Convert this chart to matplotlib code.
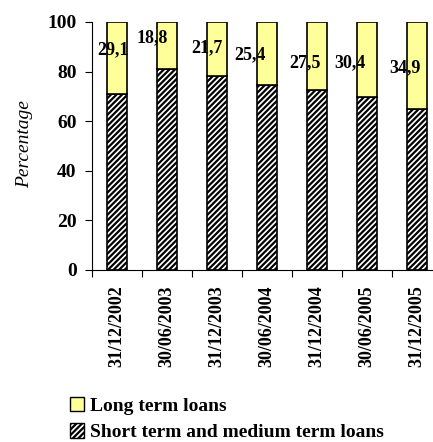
import numpy as np
import matplotlib
matplotlib.use("Agg")
import matplotlib.pyplot as plt
from matplotlib.patches import Patch

plt.rcParams["font.family"] = ["Liberation Serif", "DejaVu Serif"]
plt.rcParams["hatch.linewidth"] = 1.6
plt.rcParams["hatch.color"] = "#993366"

# データ
dates = ["31/12/2002", "30/06/2003", "31/12/2003", "30/06/2004",
         "31/12/2004", "30/06/2005", "31/12/2005"]
long_term = [29.1, 18.8, 21.7, 25.4, 27.5, 30.4, 34.9]
short_term = [100 - v for v in long_term]

# ラベル位置（Excel で手動調整されたもの）
label_dx = [-0.08, -0.30, -0.20, -0.34, -0.24, -0.34, -0.24]
label_y = [88.7, 93.5, 89.5, 86.7, 83.5, 83.5, 81.5]

YELLOW = "#FFFF99"
MAROON = "#993366"

fig = plt.figure(figsize=(4.33, 4.42), dpi=100)
ax = fig.add_axes([92 / 433, 1 - 270 / 442, 350 / 433, 248 / 442])

x = np.arange(len(dates))
ax.bar(x, short_term, width=0.4, color="white", edgecolor="black",
       hatch="//////", lw=1.2, label="Short term and medium term loans")
ax.bar(x, long_term, width=0.4, bottom=short_term, color=YELLOW,
       edgecolor="black", lw=1.2, label="Long term loans")

for xi, v, dx, ly in zip(x, long_term, label_dx, label_y):
    ax.text(xi + dx, ly, f"{v:.1f}".replace(".", ","), ha="center",
            va="center", fontsize=13, fontweight="bold")

ax.set_xlim(-0.5, len(dates) - 0.5)
ax.set_ylim(0, 100)
ax.set_yticks([0, 20, 40, 60, 80, 100])
ax.set_yticklabels(["0", "20", "40", "60", "80", "100"],
                   fontsize=14, fontweight="bold")
ax.tick_params(axis="y", direction="out", length=5, width=0.8, pad=6)

ax.set_xticks(x)
ax.set_xticklabels(dates, rotation=90, fontsize=13, fontweight="bold")
ax.set_xticks(np.arange(len(dates)) - 0.5, minor=True)
ax.tick_params(axis="x", which="major", length=0, pad=11)
ax.tick_params(axis="x", which="minor", direction="out", length=5, width=0.8)

for s in ["top", "right"]:
    ax.spines[s].set_visible(False)
ax.spines["left"].set_linewidth(0.8)
ax.spines["bottom"].set_linewidth(0.8)

fig.text(25 / 433, 1 - 144 / 442, "Percentage", rotation=90, ha="center",
         va="center", fontsize=14, fontstyle="italic")

handles = [Patch(facecolor=YELLOW, edgecolor="black", lw=1.0),
           Patch(facecolor="white", edgecolor="black", hatch="//////", lw=1.0)]
labels = ["Long term loans", "Short term and medium term loans"]
fig.legend(handles, labels, loc="upper left",
           bbox_to_anchor=(62 / 433, 1 - 389 / 442), frameon=False,
           handlelength=0.75, handleheight=0.75, handletextpad=0.3,
           labelspacing=0.45, borderaxespad=0,
           prop={"size": 14, "weight": "bold"})

fig.savefig("out.png", dpi=100)
